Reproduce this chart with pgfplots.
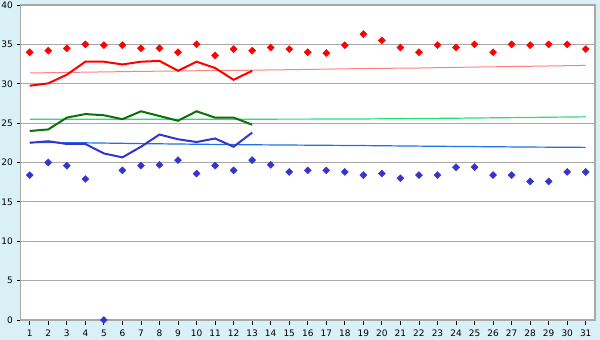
\documentclass[border=0pt]{standalone}
\usepackage{fontspec}
\setmainfont{DejaVu Sans}
\usepackage{pgfplots}
\usepackage{pgfplotstable}
\pgfplotsset{compat=1.18}
\definecolor{bg}{HTML}{D9F0F6}
\definecolor{gridgray}{HTML}{A8A8A8}
\definecolor{tmax}{HTML}{FF0000}
\definecolor{nmax}{HTML}{FF8080}
\definecolor{tmean}{HTML}{0A700A}
\definecolor{nmean}{HTML}{28E07A}
\definecolor{tmin}{HTML}{3535CC}
\definecolor{nmin}{HTML}{1E70E6}

\pgfplotstableread{
d maxv minv
1 34.0 18.4
2 34.2 20.0
3 34.5 19.6
4 35.0 17.9
5 34.9 0.0
6 34.9 19.0
7 34.5 19.6
8 34.5 19.7
9 34.0 20.3
10 35.0 18.6
11 33.6 19.6
12 34.4 19.0
13 34.2 20.3
14 34.6 19.7
15 34.4 18.8
16 34.0 19.0
17 33.9 19.0
18 34.9 18.8
19 36.3 18.4
20 35.5 18.6
21 34.6 18.0
22 34.0 18.4
23 34.9 18.4
24 34.6 19.4
25 35.0 19.4
26 34.0 18.4
27 35.0 18.4
28 34.9 17.6
29 35.0 17.6
30 35.0 18.8
31 34.4 18.8
}\extremes

\pgfplotstableread{
d hi mean lo
1 29.75 24.0 22.5
2 30.05 24.2 22.7
3 31.15 25.7 22.35
4 32.8 26.15 22.35
5 32.8 26.0 21.15
6 32.45 25.5 20.65
7 32.8 26.5 22.0
8 32.9 25.9 23.55
9 31.65 25.3 22.95
10 32.8 26.5 22.6
11 32.0 25.7 23.05
12 30.5 25.7 22.0
13 31.65 24.8 23.8
}\daily

\pgfplotstableread{
d hi mean lo
1 31.37 25.50 22.56
4 31.47 25.50 22.50
7 31.57 25.50 22.40
10 31.65 25.50 22.32
13 31.72 25.50 22.25
16 31.82 25.51 22.20
19 31.93 25.53 22.15
22 32.00 25.58 22.08
25 32.12 25.65 22.02
28 32.22 25.72 21.96
31 32.33 25.80 21.92
}\normals

\begin{document}
\begin{tikzpicture}
\fill[bg] (0,0) rectangle (600bp,340bp);
\useasboundingbox (0,0) rectangle (600bp,340bp);
\begin{axis}[
  at={(20.5bp,20bp)}, anchor=south west,
  scale only axis, width=574.5bp, height=315bp,
  xmin=0.5, xmax=31.5, ymin=0, ymax=40,
  xtick={1,...,31}, ytick={0,5,...,40},
  ymajorgrids, grid style={gridgray, line width=1bp},
  axis line style={gridgray, line width=1.3bp},
  axis background/.style={fill=white},
  tick align=outside, tick pos=left,
  xtick style={black, line width=0.8bp, /pgfplots/major tick length=5bp},
  ytick style={black, line width=0.8bp, /pgfplots/major tick length=3bp},
  tick label style={font=\fontsize{9}{10}\selectfont, text=black},
  xticklabel style={yshift=-2bp},
  /pgf/number format/assume math mode=true,
  clip=false,
]
\addplot[nmax, line width=1bp] table[x=d, y=hi] {\normals};
\addplot[nmean, line width=1.2bp] table[x=d, y=mean] {\normals};
\addplot[nmin, line width=1.2bp] table[x=d, y=lo] {\normals};
\addplot[tmax, line width=2bp] table[x=d, y=hi] {\daily};
\addplot[tmean, line width=2bp] table[x=d, y=mean] {\daily};
\addplot[tmin, line width=2bp] table[x=d, y=lo] {\daily};
\addplot[only marks, mark=square*, mark size=2.5bp, mark options={rotate=45}, color=tmax] table[x=d, y=maxv] {\extremes};
\addplot[only marks, mark=square*, mark size=2.5bp, mark options={rotate=45}, color=tmin] table[x=d, y=minv] {\extremes};
\end{axis}
\end{tikzpicture}
\end{document}
